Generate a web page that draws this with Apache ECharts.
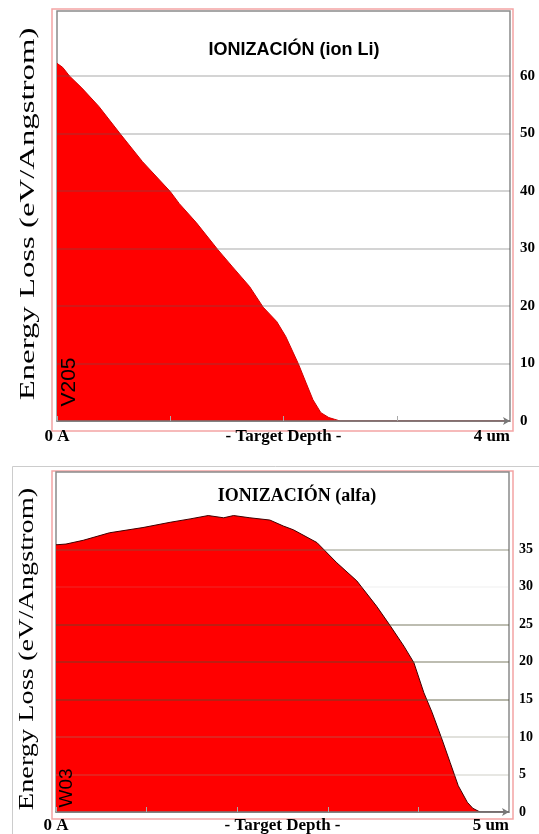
<!DOCTYPE html>
<html>
<head>
<meta charset="utf-8">
<script src="https://cdn.jsdelivr.net/npm/echarts@6/dist/echarts.min.js"></script>
<style>
html,body{margin:0;padding:0;background:#fff;}
#chart{width:539px;height:834px;}
</style>
</head>
<body>
<div id="chart"></div>
<script>
// ---- Data: top chart (ion Li) ----
const topTitle = 'IONIZACIÓN (ion Li)';
const topDepth = [0, 0.05, 0.11, 0.22, 0.37, 0.56, 0.755, 1.0, 1.08, 1.23, 1.42, 1.55, 1.70, 1.82, 1.94, 2.02, 2.13, 2.20, 2.26, 2.33, 2.40, 2.45, 2.50, 4.0];
const topLoss  = [62.2, 61.5, 60.0, 57.9, 54.7, 49.9, 45.1, 39.9, 37.8, 34.5, 29.8, 26.8, 23.4, 19.8, 17.3, 14.7, 10.0, 6.6, 3.7, 1.45, 0.6, 0.3, 0, 0];
const topYTicks = [0, 10, 20, 30, 40, 50, 60];
const topXTickValues = [0, 2, 4];
const topXTickLabels = ['0 A', '- Target Depth -', '4 um'];
const topTag = 'V205';

// ---- Data: bottom chart (alfa) ----
const botTitle = 'IONIZACIÓN (alfa)';
const botDepth = [0, 0.11, 0.30, 0.59, 0.96, 1.26, 1.48, 1.68, 1.85, 1.96, 2.14, 2.36, 2.51, 2.62, 2.88, 3.10, 3.32, 3.54, 3.69, 3.84, 3.95, 4.06, 4.15, 4.26, 4.35, 4.44, 4.54, 4.60, 4.68, 5.0];
const botLoss  = [35.6, 35.7, 36.2, 37.2, 37.9, 38.6, 39.05, 39.5, 39.2, 39.5, 39.2, 38.9, 38.1, 37.6, 35.9, 33.2, 30.8, 27.4, 24.8, 22.1, 19.9, 15.9, 13.3, 9.7, 6.6, 3.5, 1.3, 0.5, 0, 0];
const botYTicks = [0, 5, 10, 15, 20, 25, 30, 35];
const botXTickValues = [0, 2.5, 5];
const botXTickLabels = ['0 A', '- Target Depth -', '5 um'];
const botTag = 'W03';

const yName = 'Energy Loss (eV/Angstrom)';

// ---- styles (kept separate from data) ----
const botGridColors = ['rgba(0,0,0,0)', 'rgba(150,150,130,0.3)', 'rgba(140,140,120,0.35)', 'rgba(80,80,50,0.55)', 'rgba(80,80,50,0.5)', 'rgba(80,80,50,0.5)', 'rgba(180,180,180,0.15)', 'rgba(100,100,70,0.45)'];
const serif = '"Liberation Serif", "Times New Roman", serif';
const sans = '"Liberation Sans", Arial, sans-serif';

const chart = echarts.init(document.getElementById('chart'), null, {renderer: 'canvas'});

function labelFrom(values, labels) {
  return function (v) {
    for (let i = 0; i < values.length; i++) {
      if (Math.abs(values[i] - v) < 1e-6) return labels[i];
    }
    return '';
  };
}

const option = {
  animation: false,
  backgroundColor: '#fff',
  title: [
    {text: topTitle, left: 289, top: 36, textAlign: 'center',
     textStyle: {fontFamily: sans, fontWeight: 'bold', fontSize: 18, color: '#000'}},
    {text: botTitle, left: 292, top: 482, textAlign: 'center',
     textStyle: {fontFamily: serif, fontWeight: 'bold', fontSize: 18, color: '#000'}}
  ],
  grid: [
    {left: 57, top: 11, width: 453, height: 410, show: true, borderColor: '#8a8a8a', borderWidth: 1.5, containLabel: false},
    {left: 56, top: 472, width: 453, height: 341, show: true, borderColor: '#8a8a8a', borderWidth: 1.5, containLabel: false}
  ],
  xAxis: [
    {type: 'value', gridIndex: 0, position: 'bottom', z: 3, min: 0, max: 4, interval: 1,
     axisLine: {show: true, lineStyle: {color: '#777', width: 1.5}, symbol: ['none', 'arrow'], symbolSize: [6, 7]},
     axisTick: {show: true, inside: true, length: 5, lineStyle: {color: '#aaa'}},
     splitLine: {show: false},
     axisLabel: {formatter: labelFrom(topXTickValues, topXTickLabels), margin: 7, alignMaxLabel: 'right',
       fontFamily: serif, fontWeight: 'bold', fontSize: 17, color: '#000'}},
    {type: 'value', gridIndex: 1, position: 'bottom', z: 3, min: 0, max: 5, interval: 0.5,
     axisLine: {show: true, lineStyle: {color: '#777', width: 1.5}, symbol: ['none', 'arrow'], symbolSize: [6, 7]},
     axisTick: {show: false},
     splitLine: {show: false},
     axisLabel: {formatter: labelFrom(botXTickValues, botXTickLabels), margin: 5, alignMaxLabel: 'right',
       fontFamily: serif, fontWeight: 'bold', fontSize: 17, color: '#000'}},
    {type: 'value', gridIndex: 1, position: 'bottom', z: 3, offset: 0, min: 0, max: 5, interval: 1,
     axisLine: {show: false, onZero: false},
     axisTick: {show: true, inside: true, length: 5, lineStyle: {color: '#aaa'}},
     splitLine: {show: false},
     axisLabel: {show: false}}
  ],
  yAxis: [
    {type: 'value', gridIndex: 0, position: 'right', min: 0, max: 71.3, interval: 10,
     axisLine: {show: false}, axisTick: {show: false}, splitLine: {show: false},
     axisLabel: {margin: 10, formatter: function (v) { return topYTicks.indexOf(v) >= 0 ? String(v) : ''; },
       fontFamily: serif, fontWeight: 'bold', fontSize: 15, color: '#000'}},
    {type: 'value', gridIndex: 1, position: 'right', min: 0, max: 45.3, interval: 5,
     axisLine: {show: false}, axisTick: {show: false}, splitLine: {show: false},
     axisLabel: {margin: 10, formatter: function (v) { return botYTicks.indexOf(v) >= 0 ? String(v) : ''; },
       fontFamily: serif, fontWeight: 'bold', fontSize: 14, color: '#000'}}
  ],
  series: [
    {type: 'line', xAxisIndex: 0, yAxisIndex: 0, symbol: 'none', z: 2,
     data: topDepth.map(function (d, i) { return [d, topLoss[i]]; }),
     lineStyle: {color: '#d00000', width: 1},
     areaStyle: {color: '#ff0000', opacity: 1},
     markLine: {silent: true, symbol: ['none', 'none'], label: {show: false}, z: 5,
       data: topYTicks.filter(function (v) { return v > 0; }).map(function (v) {
         return {yAxis: v, lineStyle: {color: 'rgba(90,90,90,0.35)', width: 1.5, type: 'solid'}};
       })}},
    {type: 'line', xAxisIndex: 1, yAxisIndex: 1, symbol: 'none', z: 2,
     data: botDepth.map(function (d, i) { return [d, botLoss[i]]; }),
     lineStyle: {color: '#400000', width: 1},
     areaStyle: {color: '#ff0000', opacity: 1},
     markLine: {silent: true, symbol: ['none', 'none'], label: {show: false}, z: 5,
       data: botYTicks.map(function (v, i) {
         return {yAxis: v, lineStyle: {color: botGridColors[i], width: 1.5, type: 'solid'}};
       }).filter(function (d) { return d.yAxis > 0; })}}
  ],
  graphic: [
    {type: 'rect', silent: true, z: -1, shape: {x: 52, y: 9, width: 461, height: 422},
     style: {fill: 'none', stroke: '#f4a4a4', lineWidth: 1.5}},
    {type: 'rect', silent: true, z: -1, shape: {x: 52, y: 471, width: 461, height: 348},
     style: {fill: 'none', stroke: '#f4a4a4', lineWidth: 1.5}},
    {type: 'polyline', silent: true, z: -1, shape: {points: [[12.5, 834], [12.5, 466.5], [539, 466.5]]},
     style: {fill: 'none', stroke: '#cccccc', lineWidth: 1}},
    {type: 'text', silent: true, x: 28, y: 214, rotation: Math.PI / 2, scaleX: 1.49,
     style: {text: yName, font: '22px ' + serif, fill: '#000', align: 'center', verticalAlign: 'middle'}},
    {type: 'text', silent: true, x: 27, y: 649, rotation: Math.PI / 2, scaleX: 1.35,
     style: {text: yName, font: '21px ' + serif, fill: '#000', align: 'center', verticalAlign: 'middle'}},
    {type: 'text', silent: true, z: 10, x: 69, y: 382, rotation: Math.PI / 2,
     style: {text: topTag, font: '21px ' + sans, fill: '#000', align: 'center', verticalAlign: 'middle'}},
    {type: 'text', silent: true, z: 10, x: 67, y: 788, rotation: Math.PI / 2,
     style: {text: botTag, font: '19px ' + sans, fill: '#000', align: 'center', verticalAlign: 'middle'}}
  ]
};
chart.setOption(option);
</script>
</body>
</html>
